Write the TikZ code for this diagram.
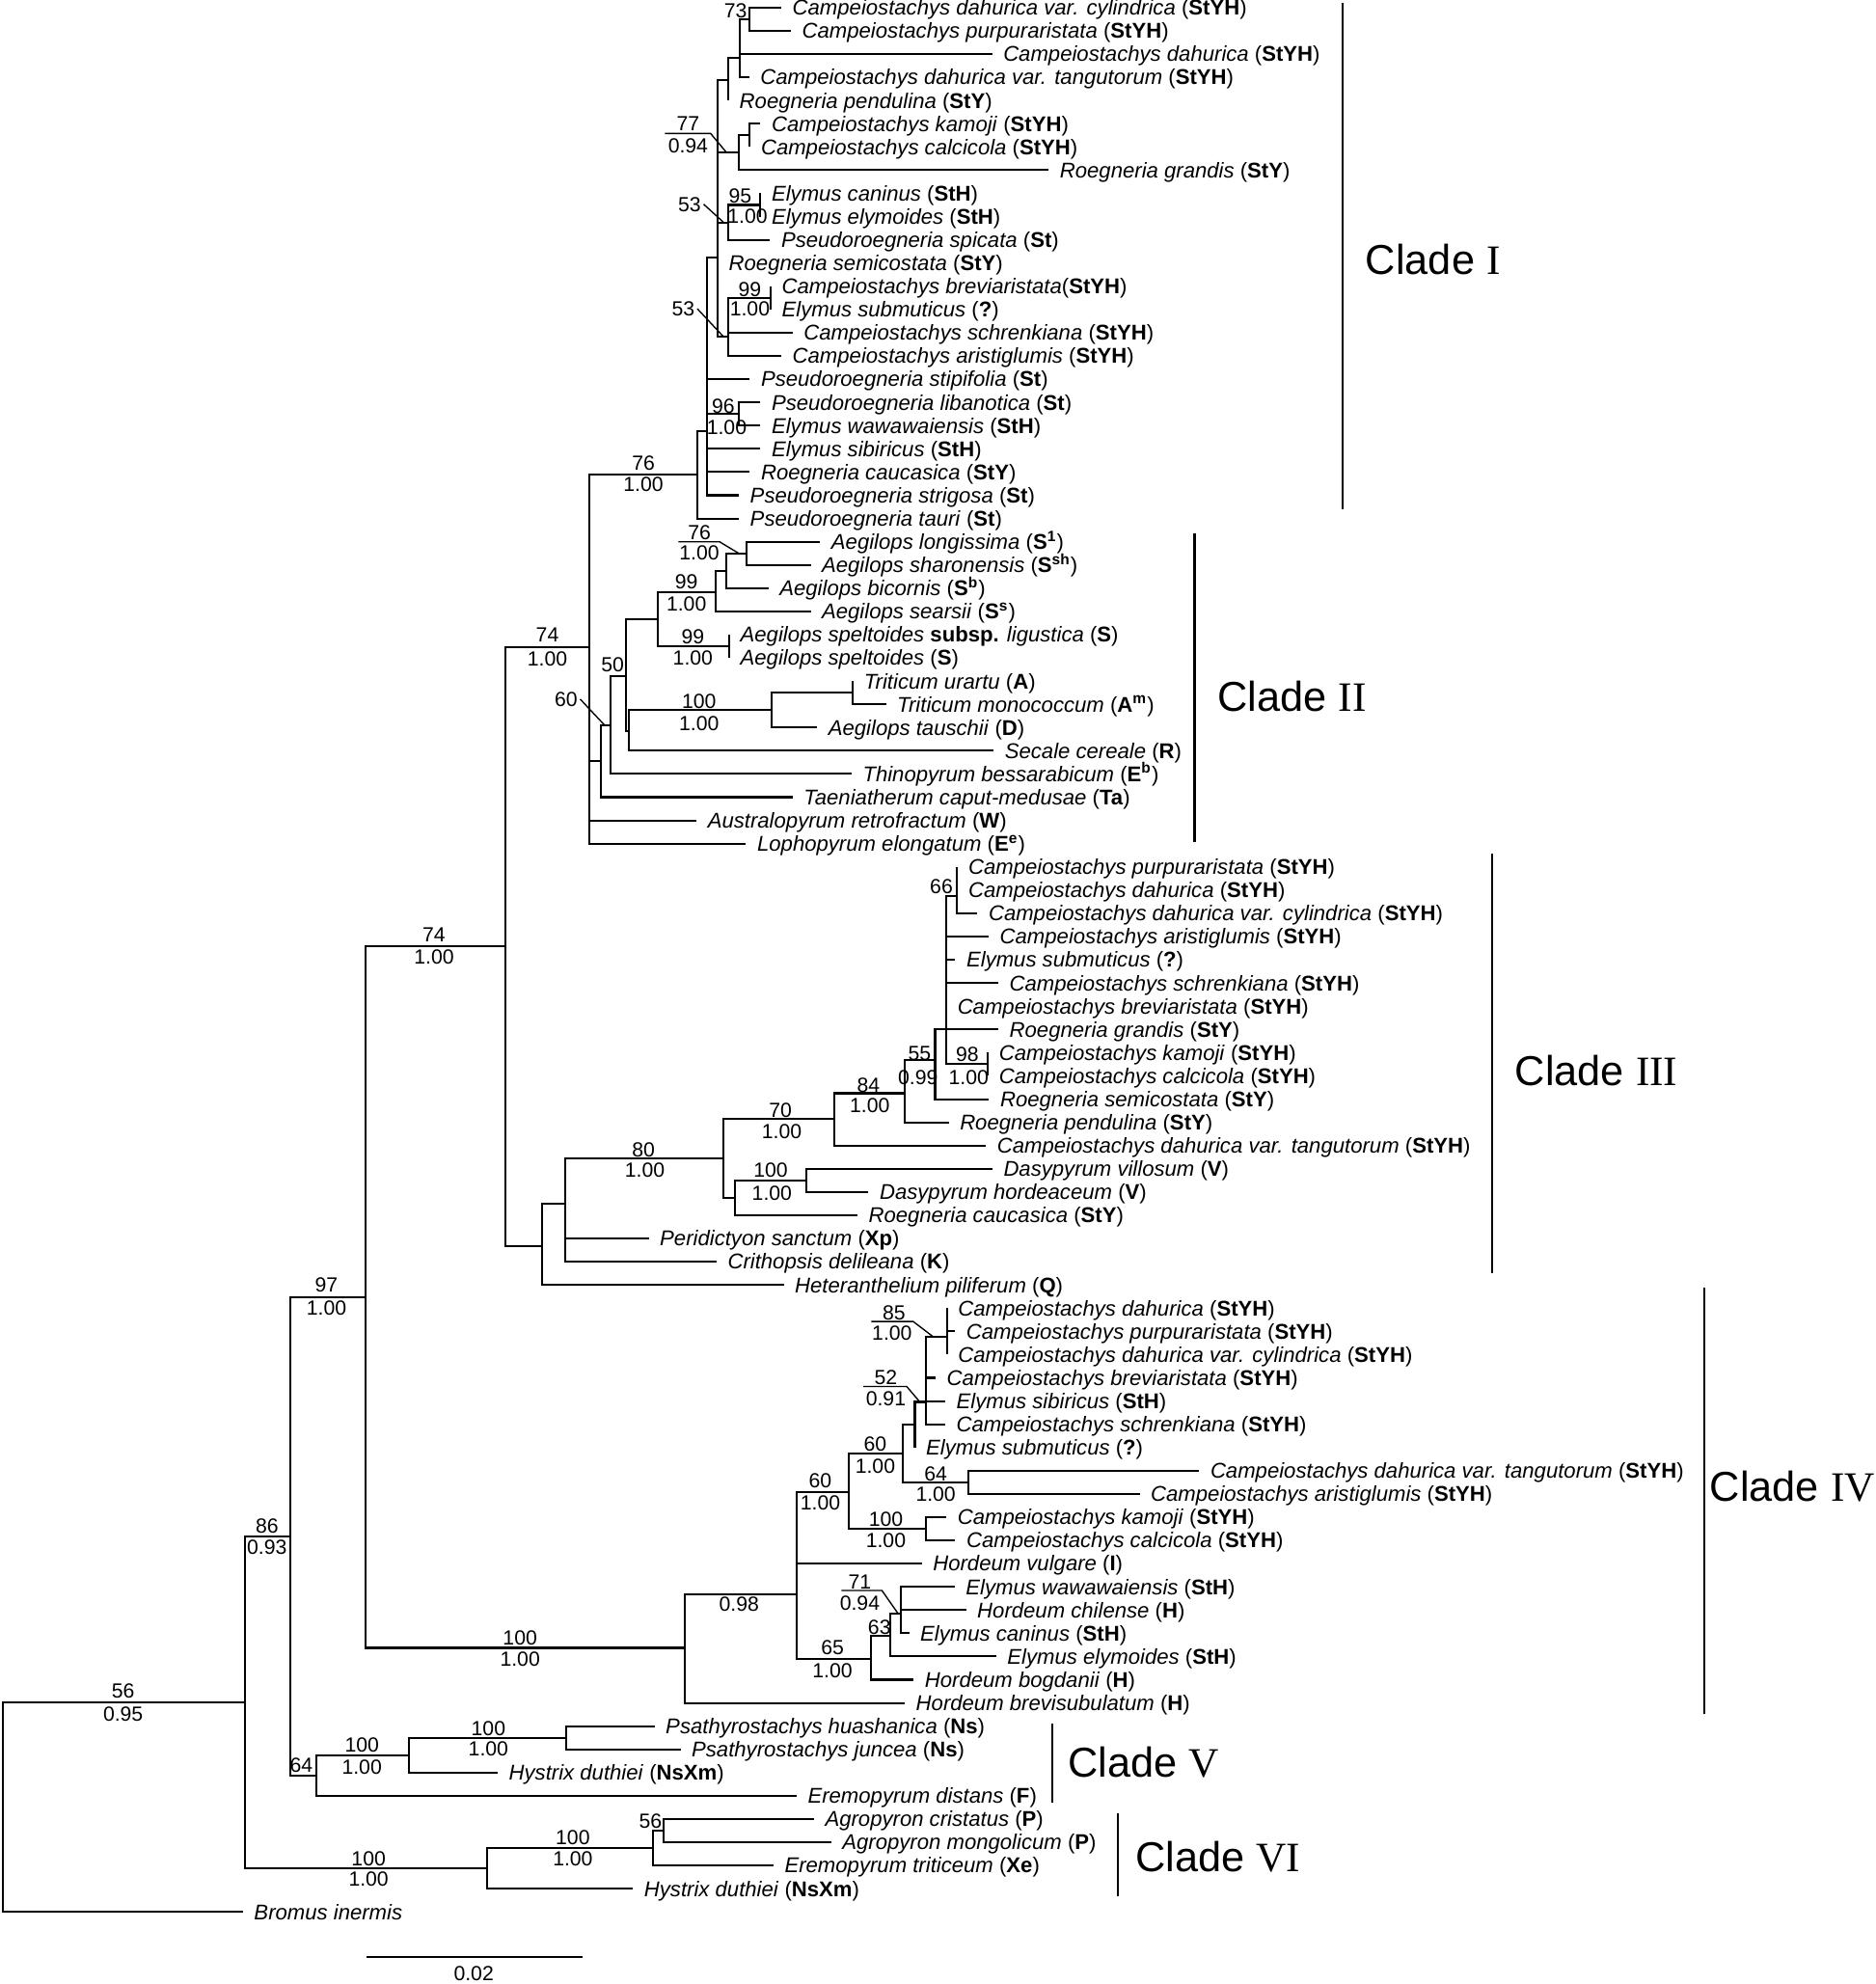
\documentclass[tikz,border=0pt]{standalone}
\usepackage{fontspec}
\setmainfont{Liberation Sans}
\newfontfamily\romfont{Liberation Serif}
\newcommand\ry[1]{6+18.354*(#1-1)}
\newcommand\taxon[2]{\textit{#1} (\textbf{#2})}

\tikzset{
  br/.style={line width=0.9pt},
  lead/.style={line width=0.6pt},
  leaf/.style={anchor=base west, inner sep=0pt, xshift=0.17cm, yshift=-0.12cm, font=\fontsize{9.6}{11}\selectfont},
  supp/.style={inner sep=0pt, font=\fontsize{9.2}{11}\selectfont},
  cladebar/.style={line width=1pt},
  cladename/.style={anchor=west, inner sep=0pt, font=\fontsize{18.8}{22}\selectfont},
}

\begin{document}
\begin{tikzpicture}[x=0.02cm,y=-0.02cm]
\useasboundingbox (0,0) rectangle (1482,1568);

% Clade I leaves
\coordinate (l1) at (617.5,{\ry{1}}); \node[leaf] (t1) at (l1) {\taxon{Campeiostachys dahurica var. cylindrica}{StYH}};
\coordinate (l2) at (625.1,{\ry{2}}); \node[leaf] (t2) at (l2) {\taxon{Campeiostachys purpuraristata}{StYH}};
\coordinate (l3) at (784.1,{\ry{3}}); \node[leaf] (t3) at (l3) {\taxon{Campeiostachys dahurica}{StYH}};
\coordinate (l4) at (592.1,{\ry{4}}); \node[leaf] (t4) at (l4) {\taxon{Campeiostachys dahurica var. tangutorum}{StYH}};
\coordinate (l5) at (575.6,{\ry{5}}); \node[leaf] (t5) at (l5) {\taxon{Roegneria pendulina}{StY}};
\coordinate (l6) at (601,{\ry{6}}); \node[leaf] (t6) at (l6) {\taxon{Campeiostachys kamoji}{StYH}};
\coordinate (l7) at (592.6,{\ry{7}}); \node[leaf] (t7) at (l7) {\taxon{Campeiostachys calcicola}{StYH}};
\coordinate (l8) at (828.8,{\ry{8}}); \node[leaf] (t8) at (l8) {\taxon{Roegneria grandis}{StY}};
\coordinate (l9) at (601,{\ry{9}}); \node[leaf] (t9) at (l9) {\taxon{Elymus caninus}{StH}};
\coordinate (l10) at (601,{\ry{10}}); \node[leaf] (t10) at (l10) {\taxon{Elymus elymoides}{StH}};
\coordinate (l11) at (608.6,{\ry{11}}); \node[leaf] (t11) at (l11) {\taxon{Pseudoroegneria spicata}{St}};
\coordinate (l12) at (567.2,{\ry{12}}); \node[leaf] (t12) at (l12) {\taxon{Roegneria semicostata}{StY}};
\coordinate (l13) at (609.1,{\ry{13}}); \node[leaf] (t13) at (l13) {\textit{Campeiostachys breviaristata}(\textbf{StYH})};
\coordinate (l14) at (609.1,{\ry{14}}); \node[leaf] (t14) at (l14) {\taxon{Elymus submuticus}{?}};
\coordinate (l15) at (626.4,{\ry{15}}); \node[leaf] (t15) at (l15) {\taxon{Campeiostachys schrenkiana}{StYH}};
\coordinate (l16) at (617.5,{\ry{16}}); \node[leaf] (t16) at (l16) {\taxon{Campeiostachys aristiglumis}{StYH}};
\coordinate (l17) at (592.6,{\ry{17}}); \node[leaf] (t17) at (l17) {\taxon{Pseudoroegneria stipifolia}{St}};
\coordinate (l18) at (601,{\ry{18}}); \node[leaf] (t18) at (l18) {\taxon{Pseudoroegneria libanotica}{St}};
\coordinate (l19) at (601,{\ry{19}}); \node[leaf] (t19) at (l19) {\taxon{Elymus wawawaiensis}{StH}};
\coordinate (l20) at (601,{\ry{20}}); \node[leaf] (t20) at (l20) {\taxon{Elymus sibiricus}{StH}};
\coordinate (l21) at (592.6,{\ry{21}}); \node[leaf] (t21) at (l21) {\taxon{Roegneria caucasica}{StY}};
\coordinate (l22) at (584,{\ry{22}}); \node[leaf] (t22) at (l22) {\taxon{Pseudoroegneria strigosa}{St}};
\coordinate (l23) at (584,{\ry{23}}); \node[leaf] (t23) at (l23) {\taxon{Pseudoroegneria tauri}{St}};

% Clade II leaves
\coordinate (l24) at (648.2,{\ry{24}}); \node[leaf] (t24) at (l24) {\textit{Aegilops longissima} (\textbf{S\textsuperscript{1}})};
\coordinate (l25) at (640.7,{\ry{25}}); \node[leaf] (t25) at (l25) {\textit{Aegilops sharonensis} (\textbf{S\textsuperscript{sh}})};
\coordinate (l26) at (607.3,{\ry{26}}); \node[leaf] (t26) at (l26) {\textit{Aegilops bicornis} (\textbf{S\textsuperscript{b}})};
\coordinate (l27) at (640.7,{\ry{27}}); \node[leaf] (t27) at (l27) {\textit{Aegilops searsii} (\textbf{S\textsuperscript{s}})};
\coordinate (l28) at (576.3,{\ry{28}}); \node[leaf] (t28) at (l28) {\textit{Aegilops speltoides} \textbf{subsp.} \textit{ligustica} (\textbf{S})};
\coordinate (l29) at (576.3,{\ry{29}}); \node[leaf] (t29) at (l29) {\taxon{Aegilops speltoides}{S}};
\coordinate (l30) at (674,{\ry{30}}); \node[leaf] (t30) at (l30) {\taxon{Triticum urartu}{A}};
\coordinate (l31) at (700.2,{\ry{31}}); \node[leaf] (t31) at (l31) {\textit{Triticum monococcum} (\textbf{A\textsuperscript{m}})};
\coordinate (l32) at (645.8,{\ry{32}}); \node[leaf] (t32) at (l32) {\taxon{Aegilops tauschii}{D}};
\coordinate (l33) at (785.3,{\ry{33}}); \node[leaf] (t33) at (l33) {\taxon{Secale cereale}{R}};
\coordinate (l34) at (673,{\ry{34}}); \node[leaf] (t34) at (l34) {\textit{Thinopyrum bessarabicum} (\textbf{E\textsuperscript{b}})};
\coordinate (l35) at (626.4,{\ry{35}}); \node[leaf] (t35) at (l35) {\taxon{Taeniatherum caput-medusae}{Ta}};
\coordinate (l36) at (550.5,{\ry{36}}); \node[leaf] (t36) at (l36) {\taxon{Australopyrum retrofractum}{W}};
\coordinate (l37) at (589.6,{\ry{37}}); \node[leaf] (t37) at (l37) {\textit{Lophopyrum elongatum} (\textbf{E\textsuperscript{e}})};

% Clade III leaves
\coordinate (l38) at (756.5,{\ry{38}}); \node[leaf] (t38) at (l38) {\taxon{Campeiostachys purpuraristata}{StYH}};
\coordinate (l39) at (756.5,{\ry{39}}); \node[leaf] (t39) at (l39) {\taxon{Campeiostachys dahurica}{StYH}};
\coordinate (l40) at (772.5,{\ry{40}}); \node[leaf] (t40) at (l40) {\taxon{Campeiostachys dahurica var. cylindrica}{StYH}};
\coordinate (l41) at (781.4,{\ry{41}}); \node[leaf] (t41) at (l41) {\taxon{Campeiostachys aristiglumis}{StYH}};
\coordinate (l42) at (755,{\ry{42}}); \node[leaf] (t42) at (l42) {\taxon{Elymus submuticus}{?}};
\coordinate (l43) at (789,{\ry{43}}); \node[leaf] (t43) at (l43) {\taxon{Campeiostachys schrenkiana}{StYH}};
\coordinate (l44) at (747.9,{\ry{44}}); \node[leaf] (t44) at (l44) {\taxon{Campeiostachys breviaristata}{StYH}};
\coordinate (l45) at (789,{\ry{45}}); \node[leaf] (t45) at (l45) {\taxon{Roegneria grandis}{StY}};
\coordinate (l46) at (780.7,{\ry{46}}); \node[leaf] (t46) at (l46) {\taxon{Campeiostachys kamoji}{StYH}};
\coordinate (l47) at (780.7,{\ry{47}}); \node[leaf] (t47) at (l47) {\taxon{Campeiostachys calcicola}{StYH}};
\coordinate (l48) at (781.7,{\ry{48}}); \node[leaf] (t48) at (l48) {\taxon{Roegneria semicostata}{StY}};
\coordinate (l49) at (749.8,{\ry{49}}); \node[leaf] (t49) at (l49) {\taxon{Roegneria pendulina}{StY}};
\coordinate (l50) at (779.2,{\ry{50}}); \node[leaf] (t50) at (l50) {\taxon{Campeiostachys dahurica var. tangutorum}{StYH}};
\coordinate (l51) at (784.3,{\ry{51}}); \node[leaf] (t51) at (l51) {\taxon{Dasypyrum villosum}{V}};
\coordinate (l52) at (686.4,{\ry{52}}); \node[leaf] (t52) at (l52) {\taxon{Dasypyrum hordeaceum}{V}};
\coordinate (l53) at (677.6,{\ry{53}}); \node[leaf] (t53) at (l53) {\taxon{Roegneria caucasica}{StY}};
\coordinate (l54) at (512.7,{\ry{54}}); \node[leaf] (t54) at (l54) {\taxon{Peridictyon sanctum}{Xp}};
\coordinate (l55) at (566.3,{\ry{55}}); \node[leaf] (t55) at (l55) {\taxon{Crithopsis delileana}{K}};
\coordinate (l56) at (619.4,{\ry{56}}); \node[leaf] (t56) at (l56) {\taxon{Heteranthelium piliferum}{Q}};

% Clade IV leaves
\coordinate (l57) at (748.4,{\ry{57}}); \node[leaf] (t57) at (l57) {\taxon{Campeiostachys dahurica}{StYH}};
\coordinate (l58) at (754.8,{\ry{58}}); \node[leaf] (t58) at (l58) {\taxon{Campeiostachys purpuraristata}{StYH}};
\coordinate (l59) at (748.4,{\ry{59}}); \node[leaf] (t59) at (l59) {\taxon{Campeiostachys dahurica var. cylindrica}{StYH}};
\coordinate (l60) at (739.5,{\ry{60}}); \node[leaf] (t60) at (l60) {\taxon{Campeiostachys breviaristata}{StYH}};
\coordinate (l61) at (747.1,{\ry{61}}); \node[leaf] (t61) at (l61) {\taxon{Elymus sibiricus}{StH}};
\coordinate (l62) at (747.1,{\ry{62}}); \node[leaf] (t62) at (l62) {\taxon{Campeiostachys schrenkiana}{StYH}};
\coordinate (l63) at (723,{\ry{63}}); \node[leaf] (t63) at (l63) {\taxon{Elymus submuticus}{?}};
\coordinate (l64) at (947.8,{\ry{64}}); \node[leaf] (t64) at (l64) {\taxon{Campeiostachys dahurica var. tangutorum}{StYH}};
\coordinate (l65) at (900.7,{\ry{65}}); \node[leaf] (t65) at (l65) {\taxon{Campeiostachys aristiglumis}{StYH}};
\coordinate (l66) at (748,{\ry{66}}); \node[leaf] (t66) at (l66) {\taxon{Campeiostachys kamoji}{StYH}};
\coordinate (l67) at (755,{\ry{67}}); \node[leaf] (t67) at (l67) {\taxon{Campeiostachys calcicola}{StYH}};
\coordinate (l68) at (728.5,{\ry{68}}); \node[leaf] (t68) at (l68) {\taxon{Hordeum vulgare}{I}};
\coordinate (l69) at (754.5,{\ry{69}}); \node[leaf] (t69) at (l69) {\taxon{Elymus wawawaiensis}{StH}};
\coordinate (l70) at (763.5,{\ry{70}}); \node[leaf] (t70) at (l70) {\taxon{Hordeum chilense}{H}};
\coordinate (l71) at (718.5,{\ry{71}}); \node[leaf] (t71) at (l71) {\taxon{Elymus caninus}{StH}};
\coordinate (l72) at (787.3,{\ry{72}}); \node[leaf] (t72) at (l72) {\taxon{Elymus elymoides}{StH}};
\coordinate (l73) at (722.1,{\ry{73}}); \node[leaf] (t73) at (l73) {\taxon{Hordeum bogdanii}{H}};
\coordinate (l74) at (715.1,{\ry{74}}); \node[leaf] (t74) at (l74) {\taxon{Hordeum brevisubulatum}{H}};

% Clade V leaves
\coordinate (l75) at (517.3,{\ry{75}}); \node[leaf] (t75) at (l75) {\taxon{Psathyrostachys huashanica}{Ns}};
\coordinate (l76) at (537.8,{\ry{76}}); \node[leaf] (t76) at (l76) {\taxon{Psathyrostachys juncea}{Ns}};
\coordinate (l77) at (393.4,{\ry{77}}); \node[leaf] (t77) at (l77) {\taxon{Hystrix duthiei}{NsXm}};
\coordinate (l78) at (629.6,{\ry{78}}); \node[leaf] (t78) at (l78) {\taxon{Eremopyrum distans}{F}};

% Clade VI leaves and outgroup
\coordinate (l79) at (643.3,{\ry{79}}); \node[leaf] (t79) at (l79) {\taxon{Agropyron cristatus}{P}};
\coordinate (l80) at (656.9,{\ry{80}}); \node[leaf] (t80) at (l80) {\taxon{Agropyron mongolicum}{P}};
\coordinate (l81) at (611.3,{\ry{81}}); \node[leaf] (t81) at (l81) {\taxon{Eremopyrum triticeum}{Xe}};
\coordinate (l82) at (500.3,{\ry{82}}); \node[leaf] (t82) at (l82) {\taxon{Hystrix duthiei}{NsXm}};
\coordinate (l83) at (192,{\ry{83}}); \node[leaf] (t83) at (l83) {\textit{Bromus inermis}};

% Internal nodes
\coordinate (n73) at (592.6,{\ry{1.5}});
\coordinate (na) at (584.5,{\ry{3.15}});
\coordinate (nb) at (575.6,{\ry{4.13}});
\coordinate (nkc) at (592.6,{\ry{6.5}});
\coordinate (ng) at (584,{\ry{7.25}});
\coordinate (n95) at (601,{\ry{9.5}});
\coordinate (n53a) at (575.6,{\ry{10.25}});
\coordinate (n99a) at (609.1,{\ry{13.5}});
\coordinate (n53b) at (575.6,{\ry{15.15}});
\coordinate (n77) at (567.2,{\ry{11.75}});
\coordinate (n96) at (584,{\ry{18.5}});
\coordinate (ncl) at (559,{\ry{19.23}});
\coordinate (n76a) at (551.4,{\ry{21.09}});
\coordinate (n76b) at (590.1,{\ry{24.5}});
\coordinate (nae3) at (574.3,{\ry{25.25}});
\coordinate (nae2) at (565.4,{\ry{26.18}});
\coordinate (nsp) at (576.3,{\ry{28.5}});
\coordinate (nae1) at (519.7,{\ry{27.35}});
\coordinate (ntm) at (674,{\ry{30.5}});
\coordinate (ntri) at (610,{\ry{31.25}});
\coordinate (nx) at (496.8,{\ry{32.14}});
\coordinate (nup) at (495,{\ry{29.77}});
\coordinate (n50) at (482.3,{\ry{31.9}});
\coordinate (n60) at (474.7,{\ry{33.46}});
\coordinate (n74a) at (465.6,{\ry{28.54}});
\coordinate (n66) at (756.5,{\ry{39.27}});
\coordinate (n98) at (780.7,{\ry{46.5}});
\coordinate (nbig) at (747.9,{\ry{45}});
\coordinate (n55) at (739,{\ry{46.3}});
\coordinate (n84) at (715,{\ry{47.75}});
\coordinate (n70) at (659.1,{\ry{48.86}});
\coordinate (n100d) at (637.4,{\ry{51.5}});
\coordinate (ndg) at (580.7,{\ry{52.25}});
\coordinate (n80) at (571.4,{\ry{50.57}});
\coordinate (nc3b) at (446.7,{\ry{52.52}});
\coordinate (nc3a) at (428.6,{\ry{54.32}});
\coordinate (n74b) at (399.5,{\ry{41.4}});
\coordinate (n85) at (748.4,{\ry{58.25}});
\coordinate (n52) at (731.9,{\ry{61.04}});
\coordinate (n52p) at (723,{\ry{62.02}});
\coordinate (n64) at (765.6,{\ry{64.5}});
\coordinate (n60b) at (713.6,{\ry{63.25}});
\coordinate (n100k) at (732,{\ry{66.5}});
\coordinate (n60a) at (670.8,{\ry{64.92}});
\coordinate (n71) at (712.1,{\ry{70.15}});
\coordinate (n63) at (703.9,{\ry{71.12}});
\coordinate (n65) at (688.3,{\ry{72.09}});
\coordinate (n98b) at (629.6,{\ry{69.32}});
\coordinate (n100iv) at (541.3,{\ry{71.63}});
\coordinate (n97) at (288.8,{\ry{56.53}});
\coordinate (n100p) at (447.2,{\ry{75.5}});
\coordinate (n100v) at (323.3,{\ry{76.25}});
\coordinate (n64v) at (249.8,{\ry{77.12}});
\coordinate (n86) at (229.4,{\ry{66.83}});
\coordinate (n56a) at (524.1,{\ry{79.5}});
\coordinate (n100a) at (516,{\ry{80.25}});
\coordinate (n100vi) at (384.6,{\ry{81.13}});
\coordinate (n56) at (193.8,{\ry{73.98}});
\coordinate (root) at (2,{\ry{78.5}});

% Branches, Clade I
\draw[br] (n73) |- (l1) (n73) |- (l2);
\draw[br] (na) |- (n73) (na) |- (l3) (na) |- (l4);
\draw[br] (nb) |- (na) (nb) |- (l5);
\draw[br] (nkc) |- (l6) (nkc) |- (l7);
\draw[br] (ng) |- (nkc) (ng) |- (l8);
\draw[br] (n95) |- (l9) (n95) |- (l10);
\draw[br] (n53a) |- (n95) (n53a) |- (l11);
\draw[br] (n99a) |- (l13) (n99a) |- (l14);
\draw[br] (n53b) |- (n99a) (n53b) |- (l15) (n53b) |- (l16);
\draw[br] (n77) |- (nb) (n77) |- (ng) (n77) |- (n53a) (n77) |- (l12) (n77) |- (n53b);
\draw[br] (n96) |- (l18) (n96) |- (l19);
\draw[br] (ncl) |- (n77) (ncl) |- (l17) (ncl) |- (n96) (ncl) |- (l20) (ncl) |- (l21) (ncl) |- (l22);
\draw[br] (n76a) |- (ncl) (n76a) |- (l23);

% Branches, Clade II
\draw[br] (n76b) |- (l24) (n76b) |- (l25);
\draw[br] (nae3) |- (n76b) (nae3) |- (l26);
\draw[br] (nae2) |- (nae3) (nae2) |- (l27);
\draw[br] (nsp) |- (l28) (nsp) |- (l29);
\draw[br] (nae1) |- (nae2) (nae1) |- (nsp);
\draw[br] (ntm) |- (l30) (ntm) |- (l31);
\draw[br] (ntri) |- (ntm) (ntri) |- (l32);
\draw[br] (nx) |- (ntri) (nx) |- (l33);
\draw[br] (nup) |- (nae1) (nup) |- (nx);
\draw[br] (n50) |- (nup) (n50) |- (l34);
\draw[br] (n60) |- (n50) (n60) |- (l35);
\draw[br] (n74a) |- (n76a) (n74a) |- (n60) (n74a) |- (l36) (n74a) |- (l37);

% Branches, Clade III
\draw[br] (n66) |- (l38) (n66) |- (l39) (n66) |- (l40);
\draw[br] (n98) |- (l46) (n98) |- (l47);
\draw[br] (nbig) |- (n66) (nbig) |- (l41) (nbig) |- (l42) (nbig) |- (l43) (nbig) |- (l44) (nbig) |- (l45) (nbig) |- (n98);
\draw[br] (n55) |- (nbig) (n55) |- (l48);
\draw[br] (n84) |- (n55) (n84) |- (l49);
\draw[br] (n70) |- (n84) (n70) |- (l50);
\draw[br] (n100d) |- (l51) (n100d) |- (l52);
\draw[br] (ndg) |- (n100d) (ndg) |- (l53);
\draw[br] (n80) |- (n70) (n80) |- (ndg);
\draw[br] (nc3b) |- (n80) (nc3b) |- (l54) (nc3b) |- (l55);
\draw[br] (nc3a) |- (nc3b) (nc3a) |- (l56);
\draw[br] (n74b) |- (n74a) (n74b) |- (nc3a);

% Branches, Clade IV
\draw[br] (n85) |- (l57) (n85) |- (l58) (n85) |- (l59);
\draw[br] (n52) |- (n85) (n52) |- (l60) (n52) |- (l61) (n52) |- (l62);
\draw[br] (n52p) |- (n52) (n52p) |- (l63);
\draw[br] (n64) |- (l64) (n64) |- (l65);
\draw[br] (n60b) |- (n52p) (n60b) |- (n64);
\draw[br] (n100k) |- (l66) (n100k) |- (l67);
\draw[br] (n60a) |- (n60b) (n60a) |- (n100k);
\draw[br] (n71) |- (l69) (n71) |- (l70) (n71) |- (l71);
\draw[br] (n63) |- (n71) (n63) |- (l72);
\draw[br] (n65) |- (n63) (n65) |- (l73);
\draw[br] (n98b) |- (n60a) (n98b) |- (l68) (n98b) |- (n65);
\draw[br] (n100iv) |- (n98b) (n100iv) |- (l74);
\draw[br] (n97) |- (n74b) (n97) |- (n100iv);

% Branches, Clades V and VI, root
\draw[br] (n100p) |- (l75) (n100p) |- (l76);
\draw[br] (n100v) |- (n100p) (n100v) |- (l77);
\draw[br] (n64v) |- (n100v) (n64v) |- (l78);
\draw[br] (n86) |- (n97) (n86) |- (n64v);
\draw[br] (n56a) |- (l79) (n56a) |- (l80);
\draw[br] (n100a) |- (n56a) (n100a) |- (l81);
\draw[br] (n100vi) |- (n100a) (n100vi) |- (l82);
\draw[br] (n56) |- (n86) (n56) |- (n100vi);
\draw[br] (root) |- (n56) (root) |- (l83);

% Support values, Clade I
\node[supp] (s73) at (581.3,8.3) {73};
\node[supp] (b77) at (543.8,97.8) {77};
\node[supp] (p77) at (543.8,115.6) {0.94};
\coordinate (k77a) at (525.4,105.5); \coordinate (k77b) at (561.6,105.5); \coordinate (k77c) at (574.3,120.7);
\draw[lead] (k77a) -- (k77b) -- (k77c);
\node[supp] (s53a) at (545,161.4) {53};
\coordinate (k53a) at (571.7,175.6);
\draw[lead] ([xshift=1pt]s53a.east) -- (k53a);
\node[supp] (b95) at (585,155) {95};
\node[supp] (p95) at (590.8,170.8) {1.00};
\node[supp] (b99a) at (592.6,228.7) {99};
\node[supp] (p99a) at (592.6,244) {1.00};
\node[supp] (s53b) at (540,244) {53};
\coordinate (k53b) at (571.7,266);
\draw[lead] ([xshift=1pt]s53b.east) -- (k53b);
\node[supp] (b96) at (571.7,320.7) {96};
\node[supp] (p96) at (574.3,338) {1.00};
\node[supp] (b76a) at (508.5,366) {76};
\node[supp] (p76a) at (508.5,383) {1.00};

% Support values, Clade II
\node[supp] (b76b) at (552.7,421.1) {76};
\node[supp] (p76b) at (552.7,437.1) {1.00};
\coordinate (k76a) at (536.2,428.2); \coordinate (k76b) at (568.7,428.2); \coordinate (k76c) at (584.5,437.7);
\draw[lead] (k76a) -- (k76b) -- (k76c);
\node[supp] (b99b) at (542.5,460) {99};
\node[supp] (p99b) at (542.5,477) {1.00};
\node[supp] (b99c) at (547.6,503.2) {99};
\node[supp] (p99c) at (547.6,520.2) {1.00};
\node[supp] (s50) at (484.1,525.3) {50};
\node[supp] (s60) at (447.4,552.5) {60};
\coordinate (k60) at (477.7,573);
\draw[lead] ([xshift=1pt]s60.east) -- (k60);
\node[supp] (b100t) at (552.5,554) {100};
\node[supp] (p100t) at (552.5,571.8) {1.00};
\node[supp] (b74a) at (432.6,502) {74};
\node[supp] (p74a) at (432.6,521) {1.00};

% Support values, Clade III
\node[supp] (s66) at (744,701) {66};
\node[supp] (b98) at (764.5,833) {98};
\node[supp] (p98) at (765.5,851.3) {1.00};
\node[supp] (b55) at (726.8,832.3) {55};
\node[supp] (p55) at (725.5,851.3) {0.99};
\node[supp] (b84) at (686.4,857.7) {84};
\node[supp] (p84) at (687.4,873.7) {1.00};
\node[supp] (b70) at (616.8,877.5) {70};
\node[supp] (p70) at (617.8,894.5) {1.00};
\node[supp] (b80) at (508.5,908.5) {80};
\node[supp] (p80) at (509.6,925) {1.00};
\node[supp] (b100d) at (609.1,925) {100};
\node[supp] (p100d) at (610.1,942.8) {1.00};

% Support values, backbone
\node[supp] (b74b) at (343,738.5) {74};
\node[supp] (p74b) at (343,756.5) {1.00};
\node[supp] (b97) at (258,1015.7) {97};
\node[supp] (p97) at (258,1033.7) {1.00};
\node[supp] (b86) at (211,1205.7) {86};
\node[supp] (p86) at (211,1222.8) {0.93};
\node[supp] (b56) at (97.3,1336.7) {56};
\node[supp] (p56) at (97.3,1355) {0.95};
\node[supp] (b100iv) at (411,1294.2) {100};
\node[supp] (p100iv) at (411,1311.3) {1.00};

% Support values, Clade IV
\node[supp] (b85) at (706.5,1037.3) {85};
\node[supp] (p85) at (705,1053.3) {1.00};
\coordinate (k85a) at (688.7,1044.4); \coordinate (k85b) at (721.7,1044.4); \coordinate (k85c) at (738.2,1057);
\draw[lead] (k85a) -- (k85b) -- (k85c);
\node[supp] (b52) at (700.1,1088.9) {52};
\node[supp] (p52) at (700.1,1105.4) {0.91};
\coordinate (k52a) at (682.3,1095.8); \coordinate (k52b) at (716.6,1095.8); \coordinate (k52c) at (726.8,1107.8);
\draw[lead] (k52a) -- (k52b) -- (k52c);
\node[supp] (b60b) at (691.7,1141) {60};
\node[supp] (p60b) at (691.7,1158.8) {1.00};
\node[supp] (b64) at (739.5,1165.2) {64};
\node[supp] (p64) at (739.5,1181.2) {1.00};
\node[supp] (b60a) at (648.3,1170.2) {60};
\node[supp] (p60a) at (648.3,1188) {1.00};
\node[supp] (b100k) at (700.1,1200.7) {100};
\node[supp] (p100k) at (700.1,1217.2) {1.00};
\node[supp] (p98b) at (584.1,1268.1) {0.98};
\node[supp] (b71) at (679.5,1250.5) {71};
\node[supp] (p71) at (679.5,1266.8) {0.94};
\coordinate (k71a) at (665,1257); \coordinate (k71b) at (697,1257); \coordinate (k71c) at (709.8,1275.3);
\draw[lead] (k71a) -- (k71b) -- (k71c);
\node[supp] (s63) at (695,1286) {63};
\node[supp] (b65) at (657.9,1302.4) {65};
\node[supp] (p65) at (657.9,1320.2) {1.00};

% Support values, Clades V and VI
\node[supp] (b100p) at (386,1365.9) {100};
\node[supp] (p100p) at (386,1382.4) {1.00};
\node[supp] (b100v) at (286,1379.4) {100};
\node[supp] (p100v) at (286,1396.4) {1.00};
\node[supp] (s64) at (238.2,1395) {64};
\node[supp] (b100a) at (452.7,1452.3) {100};
\node[supp] (p100a) at (452.7,1469.3) {1.00};
\node[supp] (b100vi) at (291.3,1468.8) {100};
\node[supp] (p100vi) at (291.3,1485.3) {1.00};
\node[supp] (s56) at (514,1439.6) {56};

% Clade bars
\coordinate (c1t) at (1061,2.2); \coordinate (c1b) at (1061,402.5);
\draw[cladebar] (c1t) -- (c1b);
\node[cladename] (cI) at (1079,205) {Clade {\romfont I}};
\coordinate (c2t) at (944,421.3); \coordinate (c2b) at (944,665.8);
\draw[cladebar] (c2t) -- (c2b);
\node[cladename] (cII) at (962,550) {Clade {\romfont II}};
\coordinate (c3t) at (1179,674.7); \coordinate (c3b) at (1179,1006);
\draw[cladebar] (c3t) -- (c3b);
\node[cladename] (cIII) at (1197,846) {Clade {\romfont III}};
\coordinate (c4t) at (1347,1017.8); \coordinate (c4b) at (1347,1354.5);
\draw[cladebar] (c4t) -- (c4b);
\node[cladename] (cIV) at (1351,1175) {Clade {\romfont IV}};
\coordinate (c5t) at (831.8,1362); \coordinate (c5b) at (831.8,1424.4);
\draw[cladebar] (c5t) -- (c5b);
\node[cladename] (cV) at (844,1392.6) {Clade {\romfont V}};
\coordinate (c6t) at (883.5,1432.7); \coordinate (c6b) at (883.5,1498.8);
\draw[cladebar] (c6t) -- (c6b);
\node[cladename] (cVI) at (897,1467.6) {Clade {\romfont VI}};

% Scale bar
\coordinate (sbl) at (289.3,1546.3); \coordinate (sbr) at (460.2,1546.3);
\draw[br] (sbl) -- (sbr);
\node[supp] (sbt) at (374.4,1559.5) {0.02};

\end{tikzpicture}
\end{document}
